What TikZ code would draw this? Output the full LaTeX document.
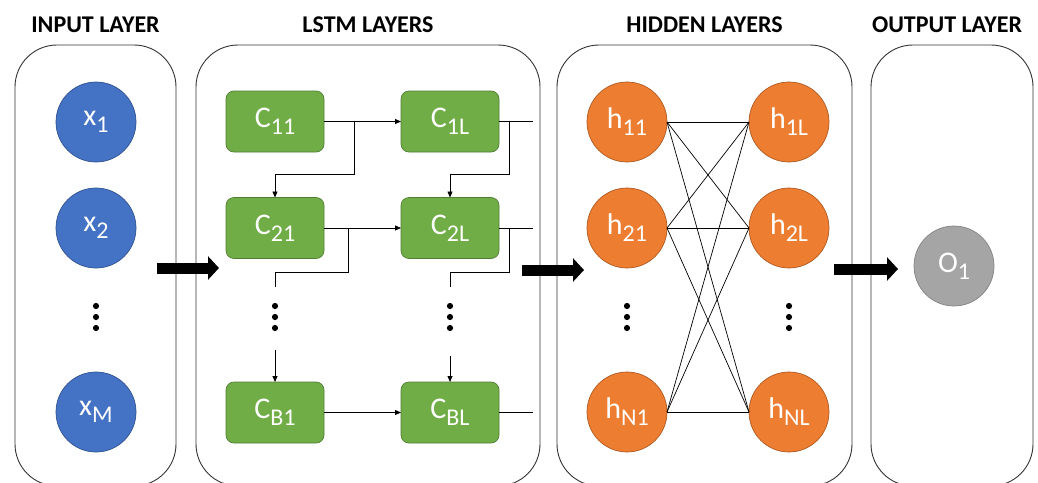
\documentclass[tikz,border=0pt]{standalone}
\usepackage{fontspec}
\setmainfont{Carlito}
\usetikzlibrary{arrows.meta,positioning}
\definecolor{inBlue}{HTML}{4472C4}
\definecolor{inBlueEdge}{HTML}{2F528F}
\definecolor{cellGreen}{HTML}{70AD47}
\definecolor{cellGreenEdge}{HTML}{507E32}
\definecolor{hidOrange}{HTML}{ED7D31}
\definecolor{hidOrangeEdge}{HTML}{AE5A21}
\definecolor{outGray}{HTML}{A5A5A5}
\definecolor{outGrayEdge}{HTML}{838383}
\tikzset{
  lstm diagram/.style={
    x=1pt, y=-1pt, line width=0.8pt,
    every node/.style={inner sep=0pt, outer sep=0pt}
  },
  layer panel/.style={draw=black!80, line width=0.9pt, rounded corners=42pt,
    minimum height=441pt},
  layer title/.style={font=\fontsize{24}{28}\selectfont\bfseries, text=black},
  neuron/.style={circle, minimum size=80pt, line width=0.7pt, text=white,
    font=\fontsize{30}{32}\selectfont},
  in neuron/.style={neuron, fill=inBlue, draw=inBlueEdge},
  hid neuron/.style={neuron, fill=hidOrange, draw=hidOrangeEdge},
  out neuron/.style={neuron, fill=outGray, draw=outGrayEdge},
  lstm cell/.style={rectangle, rounded corners=8pt, minimum width=98pt,
    minimum height=61pt, fill=cellGreen, draw=cellGreenEdge, line width=0.7pt,
    text=white, font=\fontsize{30}{32}\selectfont},
  wire/.style={draw=black, line width=0.8pt},
  flow/.style={wire, -{Triangle[length=6pt,width=5pt]}},
  mesh/.style={draw=black, line width=0.7pt},
  big arrow/.style={line width=11pt, -{Triangle[length=11pt,width=23pt]}}
}
\newcommand{\lsub}[1]{\raisebox{-7pt}{\fontsize{24}{26}\selectfont#1}}
\newcommand{\StackDots}[2]{%
  \fill (#1,#2-11) circle (3.1pt);
  \fill (#1,#2) circle (3.1pt);
  \fill (#1,#2+11) circle (3.1pt);
}

\begin{document}
\begin{tikzpicture}[lstm diagram]
  \useasboundingbox (0,0) rectangle (1038,482);
  \node[layer panel, minimum width=161pt] (inpanel) at (95.5,265.5) {};
  \node[layer panel, minimum width=344pt] (lstmpanel) at (368,265.5) {};
  \node[layer panel, minimum width=295pt] (hidpanel) at (704.5,265.5) {};
  \node[layer panel, minimum width=162pt] (outpanel) at (952,265.5) {};
  \node[layer title, above=12pt of inpanel] (intitle) {INPUT LAYER};
  \node[layer title, above=12pt of lstmpanel] (lstmtitle) {LSTM LAYERS};
  \node[layer title, above=12pt of hidpanel] (hidtitle) {HIDDEN LAYERS};
  \node[layer title, above=12pt of outpanel, xshift=-5pt] (outtitle) {OUTPUT LAYER};

  \node[in neuron] (x1) at (96,122) {x\lsub{1}};
  \node[in neuron] (x2) at (96,228) {x\lsub{2}};
  \node[in neuron] (xM) at (96,412) {x\lsub{M}};
  \StackDots{96}{317}

  \node[lstm cell] (c11) at (275,121.5) {C\lsub{11}};
  \node[lstm cell] (c1L) at (450,121.5) {C\lsub{1L}};
  \node[lstm cell] (c21) at (275,228) {C\lsub{21}};
  \node[lstm cell] (c2L) at (450,228) {C\lsub{2L}};
  \node[lstm cell] (cB1) at (275,412.5) {C\lsub{B1}};
  \node[lstm cell] (cBL) at (450,412.5) {C\lsub{BL}};
  \StackDots{275}{317}
  \StackDots{450}{317}
  \coordinate (gap1) at (275,287);
  \coordinate (gap2) at (450,287);
  \coordinate (resume1) at (275,350);
  \coordinate (resume2) at (450,356);

  \draw[flow] (c11) -- (c1L);
  \draw[flow] ([xshift=30pt]c11.east) |- ([yshift=23pt]c21.north) -- (c21.north);
  \draw[wire] (c1L.east) -- ([xshift=34pt]c1L.east);
  \draw[flow] ([xshift=10pt]c1L.east) |- ([yshift=23pt]c2L.north) -- (c2L.north);
  \draw[flow] (c21) -- (c2L);
  \draw[wire] ([xshift=24pt]c21.east) |- ([yshift=-14pt]c21.south) -- (gap1);
  \draw[wire] (c2L.east) -- ([xshift=34pt]c2L.east);
  \draw[wire] ([xshift=10pt]c2L.east) |- ([yshift=-14pt]c2L.south) -- (gap2);
  \draw[flow] (resume1) -- (cB1.north);
  \draw[flow] (resume2) -- (cBL.north);
  \draw[flow] (cB1) -- (cBL);
  \draw[wire] (cBL.east) -- ([xshift=34pt]cBL.east);

  \node[hid neuron] (h11) at (627,122) {h\lsub{11}};
  \node[hid neuron] (h21) at (627,228) {h\lsub{21}};
  \node[hid neuron] (hN1) at (627,412) {h\lsub{N1}};
  \node[hid neuron] (h1L) at (789,122) {h\lsub{1L}};
  \node[hid neuron] (h2L) at (789,228) {h\lsub{2L}};
  \node[hid neuron] (hNL) at (789,412) {h\lsub{NL}};
  \StackDots{627}{317}
  \StackDots{789}{317}
  \foreach \a in {h11,h21,hN1}
    \foreach \b in {h1L,h2L,hNL}
      \draw[mesh] (\a.east) -- (\b.west);

  \node[out neuron] (o1) at (954,266) {O\lsub{1}};

  \coordinate (in2lstm-s) at (157,268);
  \coordinate (in2lstm-e) at (219,268);
  \coordinate (lstm2hid-s) at (522,270);
  \coordinate (lstm2hid-e) at (584,270);
  \coordinate (hid2out-s) at (834,269);
  \coordinate (hid2out-e) at (898,269);
  \draw[big arrow] (in2lstm-s) -- (in2lstm-e);
  \draw[big arrow] (lstm2hid-s) -- (lstm2hid-e);
  \draw[big arrow] (hid2out-s) -- (hid2out-e);
\end{tikzpicture}
\end{document}
